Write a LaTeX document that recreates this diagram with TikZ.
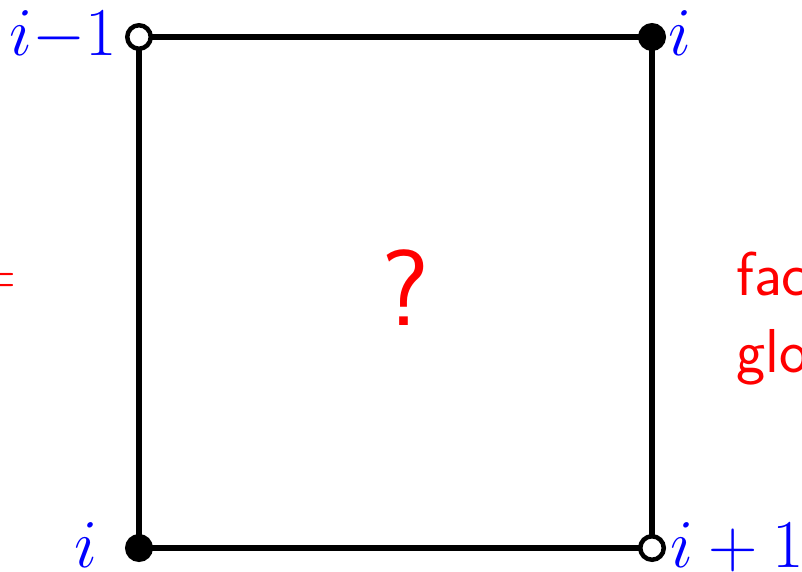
\documentclass[tikz,border=0pt]{standalone}
\usepackage{graphicx}
\newcommand{\bigmath}[1]{\scalebox{3.3}{\huge$#1$}}
\begin{document}
\begin{tikzpicture}[x=1pt,y=-1pt,
  edge/.style={line width=6pt},
  vtx/.style={circle,draw,line width=4.5pt,minimum size=23.5pt,inner sep=0pt},
  openvtx/.style={vtx,fill=white},
  fullvtx/.style={vtx,fill=black},
  lab/.style={text=blue,inner sep=0pt},
  redtxt/.style={text=red,font=\sffamily\fontsize{62}{74}\selectfont,inner sep=0pt}
]
\useasboundingbox (0,0) rectangle (802,572);
\coordinate (tl) at (139,37);
\coordinate (tr) at (652,37);
\coordinate (br) at (652,548);
\coordinate (bl) at (139,548);
\draw[edge] (tl) -- (tr) -- (br) -- (bl) -- cycle;
\node[openvtx] (vtl) at (tl) {};
\node[fullvtx] (vtr) at (tr) {};
\node[openvtx] (vbr) at (br) {};
\node[fullvtx] (vbl) at (bl) {};
\node[lab,anchor=base east] (ltl) at (117,56) {\bigmath{i{-}1}};
\node[lab,anchor=base west] (ltr) at (668,56) {\bigmath{i}};
\node[lab,anchor=base east] (lbl) at (98,567) {\bigmath{i}};
\node[lab,anchor=base west] (lbr) at (670,567) {\bigmath{i+1}};
\node[redtxt,font=\sffamily\fontsize{108}{120}\selectfont] (q) at (405,288) {?};
\node[redtxt,anchor=base east] (eq) at (17,295) {=};
\node[redtxt,anchor=base west] (t1) at (736,295) {fac};
\node[redtxt,anchor=base west] (t2) at (736,372) {glo};
\end{tikzpicture}
\end{document}
